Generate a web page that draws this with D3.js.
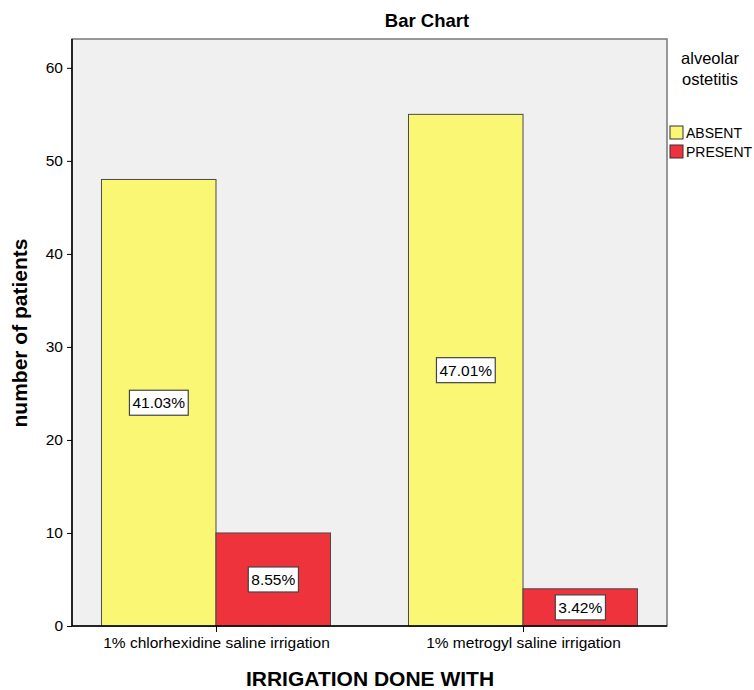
<!DOCTYPE html>
<meta charset="utf-8">
<style>
body { margin: 0; background: #fff; }
text { font-family: "Liberation Sans", Arial, sans-serif; fill: #000; }
.axis path { display: none; }
.axis line { stroke: #000; }
.axis text { font-size: 15.5px; }
.bar { stroke: #4a4a4a; stroke-width: 1; }
.lbl rect { fill: #fff; stroke: #444; stroke-width: 1.2; }
.lbl text { font-size: 15.5px; }
</style>
<svg width="754" height="690"></svg>
<script src="https://d3js.org/d3.v7.min.js"></script>
<script>
var categories = ["1% chlorhexidine saline irrigation", "1% metrogyl saline irrigation"];
var groups = ["ABSENT", "PRESENT"];
var absent = [48, 55];
var present = [10, 4];
var yTicks = [0, 10, 20, 30, 40, 50, 60];
var colors = {ABSENT: "#f9f774", PRESENT: "#ef333c"};

var total = d3.sum(absent) + d3.sum(present);

var svg = d3.select("svg"),
    margin = {top: 39, right: 87, bottom: 64, left: 72},
    width = +svg.attr("width") - margin.left - margin.right,
    height = +svg.attr("height") - margin.top - margin.bottom,
    g = svg.append("g").attr("transform", "translate(" + margin.left + "," + margin.top + ")");

var x = d3.scalePoint()
    .domain(categories)
    .range([0, width])
    .padding(0.469);

var bw = x.step() * 0.373;

var y = d3.scaleLinear()
    .domain([0, 63.1])
    .range([height, 0]);

// plot background
g.append("rect")
    .attr("width", width)
    .attr("height", height)
    .attr("fill", "#f0f0f0")
    .attr("stroke", "#777")
    .attr("stroke-width", 1.5);

var data = [];
categories.forEach(function(c, i) {
  data.push({cat: c, grp: "ABSENT", v: absent[i], off: -bw});
  data.push({cat: c, grp: "PRESENT", v: present[i], off: 0});
});

g.selectAll(".bar")
  .data(data)
  .enter().append("rect")
    .attr("class", "bar")
    .attr("x", function(d) { return x(d.cat) + d.off; })
    .attr("y", function(d) { return y(d.v); })
    .attr("width", bw)
    .attr("height", function(d) { return y(0) - y(d.v); })
    .attr("fill", function(d) { return colors[d.grp]; });

// percentage labels
var lbl = g.selectAll(".lbl")
  .data(data)
  .enter().append("g")
    .attr("class", "lbl")
    .attr("transform", function(d) {
      return "translate(" + (x(d.cat) + d.off + bw / 2) + "," + y(d.v / 2) + ")";
    });

lbl.append("text")
    .attr("text-anchor", "middle")
    .attr("dy", "0.35em")
    .text(function(d) { return (d.v / total * 100).toFixed(2) + "%"; })
    .each(function() {
      var b = this.getBBox();
      d3.select(this.parentNode).insert("rect", "text")
        .attr("x", b.x - 3)
        .attr("y", -12.5)
        .attr("width", b.width + 6)
        .attr("height", 25);
    });

// axes
g.append("g")
    .attr("class", "axis")
    .call(d3.axisLeft(y).tickValues(yTicks).tickSize(5).tickPadding(4));

g.append("g")
    .attr("class", "axis")
    .attr("transform", "translate(0," + height + ")")
    .call(d3.axisBottom(x).tickSize(6).tickPadding(5));

g.append("line")
    .attr("x1", 0).attr("x2", 0).attr("y1", 0).attr("y2", height)
    .attr("stroke", "#000").attr("stroke-width", 1.5);
g.append("line")
    .attr("x1", 0).attr("x2", width).attr("y1", height).attr("y2", height)
    .attr("stroke", "#000").attr("stroke-width", 1.5);

// titles
svg.append("text")
    .attr("x", 427)
    .attr("y", 27)
    .attr("text-anchor", "middle")
    .style("font-size", "18.5px")
    .style("font-weight", "bold")
    .text("Bar Chart");

svg.append("text")
    .attr("transform", "translate(27,333) rotate(-90)")
    .attr("text-anchor", "middle")
    .style("font-size", "21px")
    .style("font-weight", "bold")
    .text("number of patients");

svg.append("text")
    .attr("x", 370)
    .attr("y", 686)
    .attr("text-anchor", "middle")
    .style("font-size", "21px")
    .style("font-weight", "bold")
    .text("IRRIGATION DONE WITH");

// legend
var lg = svg.append("g").attr("transform", "translate(670,0)");
lg.append("text").attr("x", 40).attr("y", 64).attr("text-anchor", "middle")
    .style("font-size", "16.5px").text("alveolar");
lg.append("text").attr("x", 40).attr("y", 85).attr("text-anchor", "middle")
    .style("font-size", "16.5px").text("ostetitis");

var li = lg.selectAll(".li")
  .data(groups)
  .enter().append("g")
    .attr("transform", function(d, i) { return "translate(0," + (126 + i * 19) + ")"; });
li.append("rect")
    .attr("width", 13).attr("height", 13)
    .attr("fill", function(d) { return colors[d]; })
    .attr("stroke", "#333");
li.append("text")
    .attr("x", 16).attr("y", 12)
    .style("font-size", "14px")
    .text(function(d) { return d; });
</script>
